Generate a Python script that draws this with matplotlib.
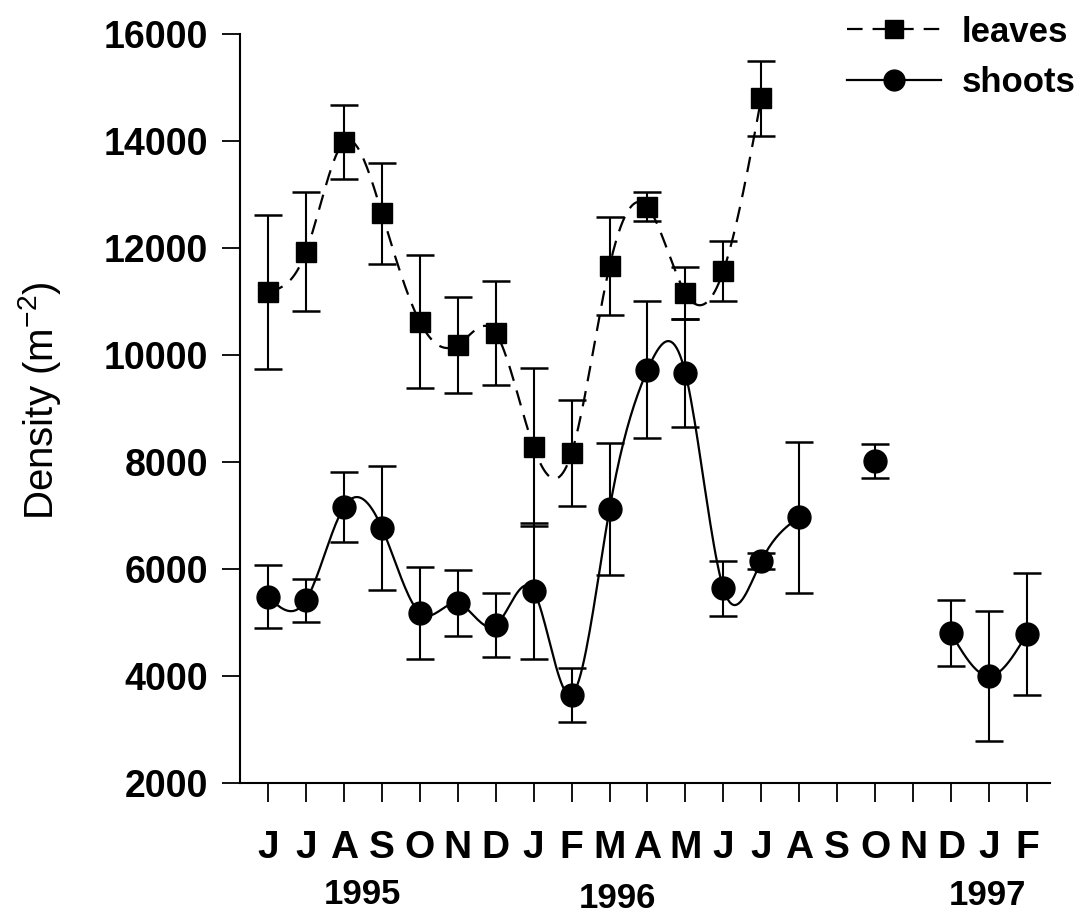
import numpy as np
import matplotlib
matplotlib.use("Agg")
import matplotlib.pyplot as plt
from matplotlib.lines import Line2D
from matplotlib.transforms import blended_transform_factory

# Sampling months, June 1995 to February 1997
months = ["J", "J", "A", "S", "O", "N", "D", "J", "F", "M", "A",
          "M", "J", "J", "A", "S", "O", "N", "D", "J", "F"]
years = ["1995", "1996", "1997"]

# Leaf density (m^-2), mean and error
leaves_idx = list(range(14))
leaves = [11180, 11930, 13980, 12650, 10620, 10190, 10410,
          8280, 8170, 11660, 12770, 11160, 11570, 14800]
leaves_err = [1440, 1110, 690, 940, 1240, 900, 970,
              1480, 990, 915, 270, 490, 560, 700]

# Shoot density (m^-2), mean and error
shoots_idx = list(range(15)) + [16, 18, 19, 20]
shoots = [5480, 5420, 7160, 6770, 5180, 5360, 4950, 5590, 3650,
          7120, 9720, 9660, 5640, 6150, 6970, 8020, 4800, 4000, 4790]
shoots_err = [590, 400, 645, 1160, 860, 620, 600, 1270, 500,
              1230, 1280, 1010, 515, 150, 1410, 310, 620, 1215, 1140]

# Groups of consecutive samples joined by a smooth curve
shoot_runs = [list(range(15)), [18, 19, 20]]

plt.rcParams["mathtext.fontset"] = "custom"
plt.rcParams["mathtext.rm"] = "Liberation Sans"


def natural_spline(x, y, n=300):
    """Natural cubic spline through the points (x, y)."""
    x = np.asarray(x, float)
    y = np.asarray(y, float)
    k = len(x)
    if k < 3:
        return x, y
    h = np.diff(x)
    A = np.zeros((k, k))
    b = np.zeros(k)
    A[0, 0] = A[-1, -1] = 1.0
    for i in range(1, k - 1):
        A[i, i - 1] = h[i - 1]
        A[i, i] = 2 * (h[i - 1] + h[i])
        A[i, i + 1] = h[i]
        b[i] = 6 * ((y[i + 1] - y[i]) / h[i] - (y[i] - y[i - 1]) / h[i - 1])
    M = np.linalg.solve(A, b)
    xs = np.linspace(x[0], x[-1], n)
    j = np.clip(np.searchsorted(x, xs) - 1, 0, k - 2)
    t0 = x[j + 1] - xs
    t1 = xs - x[j]
    hj = h[j]
    ys = (M[j] * t0 ** 3 / (6 * hj) + M[j + 1] * t1 ** 3 / (6 * hj)
          + (y[j] / hj - M[j] * hj / 6) * t0
          + (y[j + 1] / hj - M[j + 1] * hj / 6) * t1)
    return xs, ys


bold = dict(family="Liberation Sans", fontweight="bold")

fig = plt.figure(figsize=(10.81, 9.17), dpi=100)
ax = fig.add_axes([0.222, 0.146, 0.749, 0.817])

dash = (0, (7.0, 4.5))

# Leaves: dashed spline, squares with error bars
lx, ly = natural_spline(leaves_idx, leaves)
ax.plot(lx, ly, color="black", lw=1.6, linestyle=dash, zorder=2)
ax.errorbar(leaves_idx, leaves, yerr=leaves_err, fmt="s", color="black",
            ms=14, ecolor="black", elinewidth=1.5, capsize=10, capthick=1.8,
            zorder=3)

# Shoots: solid spline per run, circles with error bars
sx_all = np.array(shoots_idx)
sy_all = np.array(shoots)
for run in shoot_runs:
    mask = np.isin(sx_all, run)
    cx, cy = natural_spline(sx_all[mask], sy_all[mask])
    if len(cx) > 1:
        ax.plot(cx, cy, color="black", lw=1.6, zorder=2)
ax.errorbar(shoots_idx, shoots, yerr=shoots_err, fmt="o", color="black",
            ms=16.5, ecolor="black", elinewidth=1.5, capsize=10, capthick=1.8,
            zorder=3)

ax.set_xlim(-0.74, 20.6)
ax.set_ylim(2000, 16000)
ax.set_yticks(np.arange(2000, 16001, 2000))
ax.set_xticks(range(len(months)))
ax.set_xticklabels(months)
for lab in ax.get_yticklabels():
    lab.set(**bold, fontsize=27)
for lab in ax.get_xticklabels():
    lab.set(**bold, fontsize=28)

ax.spines["top"].set_visible(False)
ax.spines["right"].set_visible(False)
for s in ("left", "bottom"):
    ax.spines[s].set_linewidth(1.5)
ax.tick_params(axis="y", direction="out", length=13, width=1.3, pad=10)
ax.tick_params(axis="x", direction="out", length=14, width=1.3, pad=20)

ax.set_ylabel("Density (m$^{\\mathregular{-2}}$)", fontsize=29,
              family="Liberation Sans")
ax.yaxis.set_label_coords(-0.218, 0.51)

# Year labels under the month letters
trans = blended_transform_factory(ax.transData, fig.transFigure)
for xpos, ypos, yr in zip([2.48, 9.2, 18.97], [0.024, 0.020, 0.023], years):
    ax.text(xpos, ypos, yr, transform=trans, ha="center", va="center",
            fontsize=25, **bold)

handles = [
    Line2D([], [], color="black", lw=1.6, linestyle=dash, marker="s", ms=13),
    Line2D([], [], color="black", lw=1.6, marker="o", ms=15),
]
leg = fig.legend(handles, ["leaves", "shoots"], loc="upper right",
                 bbox_to_anchor=(0.995, 0.983), frameon=False,
                 borderaxespad=0, borderpad=0, handlelength=2.7,
                 handletextpad=0.6, labelspacing=0.5,
                 prop=dict(family="Liberation Sans", weight="bold", size=25))

fig.savefig("out.png", dpi=100)
